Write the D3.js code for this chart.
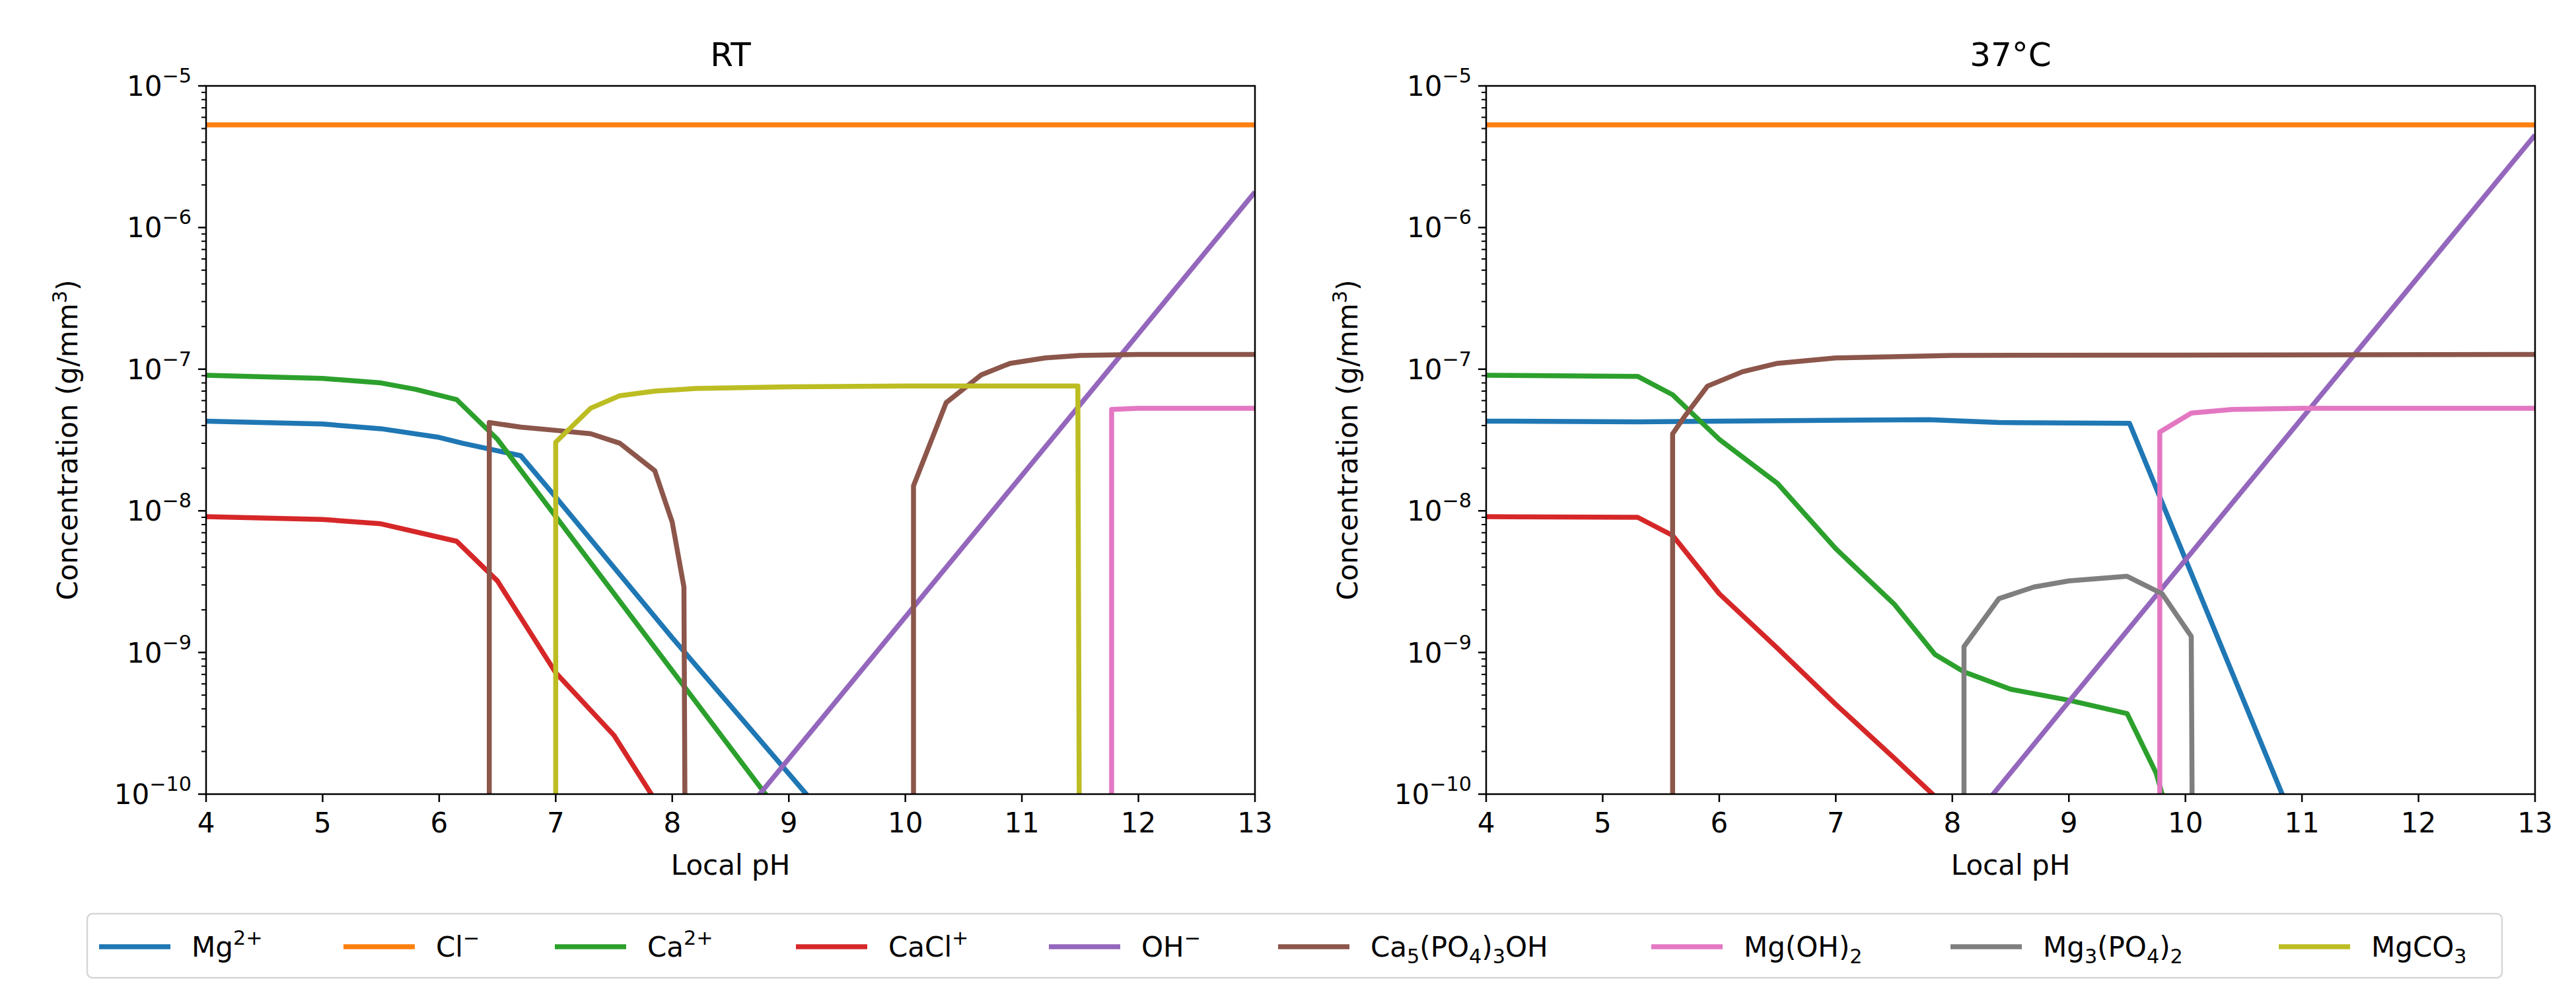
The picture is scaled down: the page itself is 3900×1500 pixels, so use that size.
<!DOCTYPE html>
<html><head><meta charset="utf-8">
<script src="https://cdn.jsdelivr.net/npm/d3@7"></script>
<style>body{margin:0;background:#fff}text{font-family:"DejaVu Sans",sans-serif}</style>
</head><body><svg id="c" width="3900" height="1500"></svg>
<script>
const FLOOR = 1e-12; // below axis: species absent
const species = ["Mg2+","Cl-","Ca2+","CaCl+","OH-","Ca5(PO4)3OH","Mg(OH)2","Mg3(PO4)2","MgCO3"];
const colors = ["#1f77b4","#ff7f0e","#2ca02c","#d62728","#9467bd","#8c564b","#e377c2","#7f7f7f","#bcbd22"];
const xTicks = [4,5,6,7,8,9,10,11,12,13];
const yTicks = [-10,-9,-8,-7,-6,-5];
const titles = ["RT","37°C"];

// RT panel series [pH, concentration]
const rt_Mg = [[4,4.3e-8],[5,4.1e-8],[5.5,3.8e-8],[6,3.3e-8],[6.2,3.0e-8],[6.7,2.45e-8],[7,1.25e-8],[8,1.27e-9],[9.15,1e-10],[9.3,7e-11]];
const rt_Cl = [[4,5.3e-6],[13,5.3e-6]];
const rt_Ca = [[4,9.05e-8],[5,8.6e-8],[5.5,8.0e-8],[5.8,7.2e-8],[6.15,6.1e-8],[6.5,3.2e-8],[8.8,1e-10],[9,6.5e-11]];
const rt_CaCl = [[4,9.1e-9],[5,8.7e-9],[5.5,8.1e-9],[6.15,6.1e-9],[6.5,3.2e-9],[7,7.2e-10],[7.5,2.6e-10],[7.82,1e-10],[8,6e-11]];
const rt_OH = [[8.5,5.6e-11],[8.75,1e-10],[9,1.78e-10],[10,1.78e-9],[11,1.78e-8],[12,1.78e-7],[13,1.78e-6]];
const rt_HAP = [[6.43,FLOOR],[6.43,4.2e-8],[6.7,3.9e-8],[7,3.7e-8],[7.3,3.5e-8],[7.55,3.0e-8],[7.85,1.92e-8],[8.0,8.3e-9],[8.1,2.9e-9],[8.12,FLOOR],null,
  [10.07,FLOOR],[10.07,1.5e-8],[10.35,5.8e-8],[10.65,9.1e-8],[10.9,1.1e-7],[11.2,1.2e-7],[11.5,1.25e-7],[12,1.27e-7],[13,1.27e-7]];
const rt_MgOH2 = [[11.77,FLOOR],[11.77,5.2e-8],[12,5.3e-8],[13,5.3e-8]];
const rt_Mg3 = [];
const rt_MgCO3 = [[7.0,FLOOR],[7.0,3.05e-8],[7.3,5.3e-8],[7.55,6.5e-8],[7.85,7.0e-8],[8.2,7.3e-8],[9,7.5e-8],[10,7.6e-8],[11.48,7.6e-8],[11.5,FLOOR]];

// 37°C panel series
const bt_Mg = [[4,4.3e-8],[5.3,4.25e-8],[6,4.3e-8],[7.8,4.4e-8],[8.4,4.2e-8],[9.52,4.15e-8],[10.83,1e-10],[11,6e-11]];
const bt_Cl = [[4,5.3e-6],[13,5.3e-6]];
const bt_Ca = [[4,9.05e-8],[5.3,8.9e-8],[5.6,6.6e-8],[6,3.2e-8],[6.5,1.56e-8],[7,5.4e-9],[7.5,2.2e-9],[7.85,9.7e-10],[8.1,7.3e-10],[8.5,5.5e-10],[9,4.6e-10],[9.5,3.7e-10],[9.75,1.4e-10],[9.8,1e-10],[9.85,7e-11]];
const bt_CaCl = [[4,9.1e-9],[5.3,9.0e-9],[5.6,6.7e-9],[6,2.6e-9],[6.5,1.07e-9],[7,4.3e-10],[7.5,1.8e-10],[7.83,1e-10],[8,7e-11]];
const bt_OH = [[8.2,7e-11],[8.35,1e-10],[9,4.5e-10],[10,4.5e-9],[11,4.5e-8],[12,4.5e-7],[13,4.5e-6]];
const bt_HAP = [[5.6,FLOOR],[5.6,3.5e-8],[5.7,4.6e-8],[5.9,7.6e-8],[6.2,9.6e-8],[6.5,1.1e-7],[7,1.2e-7],[8,1.25e-7],[13,1.27e-7]];
const bt_MgOH2 = [[9.78,FLOOR],[9.78,3.6e-8],[10.05,4.9e-8],[10.4,5.2e-8],[11,5.3e-8],[13,5.3e-8]];
const bt_Mg3 = [[8.1,FLOOR],[8.1,1.1e-9],[8.4,2.4e-9],[8.7,2.9e-9],[9,3.2e-9],[9.5,3.45e-9],[9.8,2.6e-9],[10.05,1.3e-9],[10.07,FLOOR]];
const bt_MgCO3 = [];

const panels = [
  {title:titles[0], left:312, series:[rt_Mg,rt_Cl,rt_Ca,rt_CaCl,rt_OH,rt_HAP,rt_MgOH2,rt_Mg3,rt_MgCO3]},
  {title:titles[1], left:2250, series:[bt_Mg,bt_Cl,bt_Ca,bt_CaCl,bt_OH,bt_HAP,bt_MgOH2,bt_Mg3,bt_MgCO3]}
];
const W = 1588, topM = 130, H = 1072;
const svg = d3.select("#c");
const fs = 42;

panels.forEach((p,pi)=>{
  const g = svg.append("g").attr("transform",`translate(${p.left},${topM})`);
  const x = d3.scaleLinear().domain([4,13]).range([0,W]);
  const y = d3.scaleLog().domain([1e-10,1e-5]).range([H,0]);
  g.append("clipPath").attr("id","clip"+pi).append("rect").attr("width",W).attr("height",H);
  const line = d3.line().defined(d=>d!==null).x(d=>x(d[0])).y(d=>y(Math.max(d[1],1e-14)));
  const lg = g.append("g").attr("clip-path",`url(#clip${pi})`);
  p.series.forEach((s,i)=>{
    if(!s.length) return;
    lg.append("path").attr("d",line(s)).attr("fill","none").attr("stroke",colors[i])
      .attr("stroke-width",7.5).attr("stroke-linejoin","round");
  });
  const minor=[];
  for(let e=-10;e<-5;e++) for(let m=2;m<10;m++) minor.push(m*Math.pow(10,e));
  g.selectAll(".mn").data(minor).enter().append("line").attr("x1",0).attr("x2",-7)
    .attr("y1",d=>y(d)).attr("y2",d=>y(d)).attr("stroke","#000").attr("stroke-width",2);
  yTicks.forEach(e=>{
    const yy=y(Math.pow(10,e));
    g.append("line").attr("x1",0).attr("x2",-12).attr("y1",yy).attr("y2",yy).attr("stroke","#000").attr("stroke-width",2.5);
    const t=g.append("text").attr("x",-22).attr("y",yy+15).attr("text-anchor","end").attr("font-size",fs);
    t.append("tspan").text("10");
    t.append("tspan").attr("dy",-20).attr("font-size",fs*0.72).text("−"+(-e));
  });
  xTicks.forEach(v=>{
    g.append("line").attr("x1",x(v)).attr("x2",x(v)).attr("y1",H).attr("y2",H+12).attr("stroke","#000").attr("stroke-width",2.5);
    g.append("text").attr("x",x(v)).attr("y",H+58).attr("text-anchor","middle").attr("font-size",fs).text(v);
  });
  g.append("rect").attr("width",W).attr("height",H).attr("fill","none").attr("stroke","#000").attr("stroke-width",2.5);
  g.append("text").attr("x",W/2).attr("y",-30).attr("text-anchor","middle").attr("font-size",50).text(p.title);
  g.append("text").attr("x",W/2).attr("y",H+122).attr("text-anchor","middle").attr("font-size",fs).text("Local pH");
  const yl=g.append("text").attr("transform",`translate(-195,${H/2}) rotate(-90)`).attr("text-anchor","middle").attr("font-size",fs);
  yl.append("tspan").text("Concentration (g/mm");
  yl.append("tspan").attr("dy",-16).attr("font-size",fs*0.72).text("3");
  yl.append("tspan").attr("dy",16).text(")");
});

const legLabels = [
  [["Mg",0],["2+",1]],[["Cl",0],["−",1]],[["Ca",0],["2+",1]],[["CaCl",0],["+",1]],[["OH",0],["−",1]],
  [["Ca",0],["5",-1],["(PO",0],["4",-1],[")",0],["3",-1],["OH",0]],
  [["Mg(OH)",0],["2",-1]],[["Mg",0],["3",-1],["(PO",0],["4",-1],[")",0],["2",-1]],[["MgCO",0],["3",-1]]
];
const legX = [150,520,840,1205,1588,1935,2500,2953,3450];
svg.append("rect").attr("x",132).attr("y",1383).attr("width",3656).attr("height",97).attr("rx",8)
  .attr("fill","#fff").attr("stroke","#d6d6d6").attr("stroke-width",2.5);
species.forEach((s,i)=>{
  const lx=legX[i], ly=1433;
  svg.append("line").attr("x1",lx).attr("x2",lx+108).attr("y1",ly).attr("y2",ly).attr("stroke",colors[i]).attr("stroke-width",7.5);
  const t=svg.append("text").attr("x",lx+140).attr("y",ly+15).attr("font-size",fs);
  let cur=0;
  legLabels[i].forEach(([txt,k])=>{
    const target = k===1?-18:(k===-1?10:0);
    const ts=t.append("tspan").attr("dy",target-cur).text(txt);
    if(k!==0) ts.attr("font-size",fs*0.72);
    cur=target;
  });
});
</script></body></html>
